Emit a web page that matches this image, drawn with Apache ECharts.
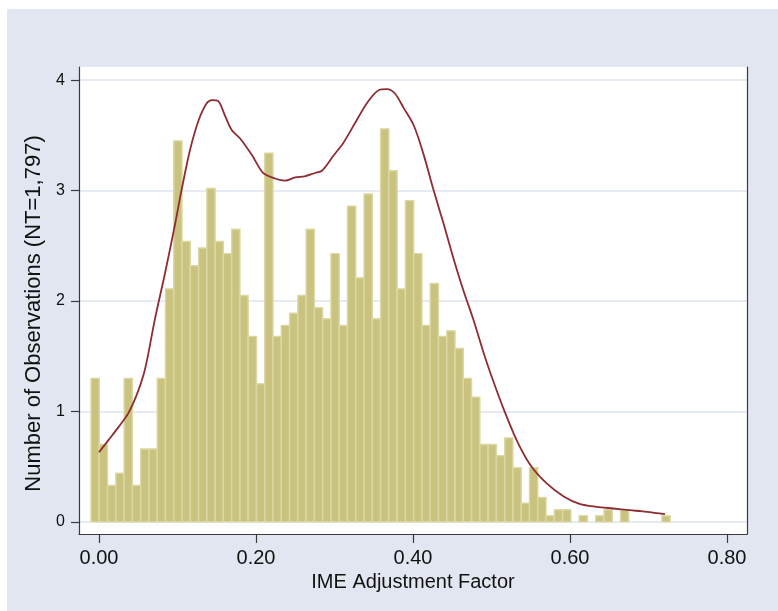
<!DOCTYPE html>
<html>
<head>
<meta charset="utf-8">
<script src="https://cdn.jsdelivr.net/npm/echarts@6/dist/echarts.min.js"></script>
<style>
    html, body { margin: 0; padding: 0; background: #fff; }
    #chart { width: 778px; height: 611px; }
</style>
</head>
<body>
<div id="chart"></div>
<script>
// histogram bins (density)
const binStart = -0.0102
const binWidth = 0.01054
const densities = [
    1.30, 0.70, 0.33, 0.44, 1.30, 0.33, 0.66, 0.66, 1.30, 2.11,
    3.45, 2.54, 2.32, 2.48, 3.02, 2.54, 2.43, 2.65, 2.05, 1.68,
    1.25, 3.34, 1.68, 1.78, 1.89, 2.05, 2.65, 1.94, 1.84, 2.43,
    1.78, 2.86, 2.21, 2.97, 1.84, 3.56, 3.18, 2.11, 2.91, 2.43,
    1.78, 2.16, 1.68, 1.73, 1.57, 1.30, 1.13, 0.70, 0.70, 0.60,
    0.76, 0.49, 0.17, 0.49, 0.22, 0.055, 0.11, 0.11, 0, 0.055,
    0, 0.055, 0.11, 0, 0.11, 0, 0, 0, 0, 0.055
]
// kernel density curve
const kdeX = [
    0.000, 0.012, 0.025, 0.037, 0.048, 0.057, 0.063, 0.071, 0.084, 0.097,
    0.105, 0.116, 0.127, 0.137, 0.144, 0.152, 0.161, 0.169, 0.180, 0.195,
    0.209, 0.224, 0.237, 0.250, 0.262, 0.275, 0.284, 0.299, 0.311, 0.326,
    0.341, 0.356, 0.367, 0.377, 0.388, 0.401, 0.413, 0.426, 0.439, 0.451,
    0.464, 0.477, 0.490, 0.502, 0.515, 0.532, 0.549, 0.570, 0.592, 0.613,
    0.634, 0.655, 0.676, 0.698, 0.721
]
const kdeY = [
    0.63, 0.74, 0.86, 0.98, 1.15, 1.34, 1.53, 1.83, 2.25, 2.70,
    3.00, 3.37, 3.64, 3.79, 3.82, 3.81, 3.67, 3.55, 3.47, 3.32,
    3.16, 3.11, 3.09, 3.12, 3.13, 3.16, 3.18, 3.32, 3.43, 3.61,
    3.79, 3.91, 3.92, 3.88, 3.75, 3.59, 3.34, 3.01, 2.70, 2.40,
    2.10, 1.83, 1.53, 1.28, 1.03, 0.74, 0.52, 0.35, 0.23, 0.16,
    0.136, 0.121, 0.106, 0.091, 0.07
]
const xTicks = [0, 0.2, 0.4, 0.6, 0.8]
const yTicks = [0, 1, 2, 3, 4]

const FONT = 'Liberation Sans'
const AXIS_COLOR = '#3a3a3a'

const binData = densities.map((d, i) => [binStart + i * binWidth, binStart + (i + 1) * binWidth, d])
const kdeData = kdeX.map((x, i) => [x, kdeY[i]])

const chart = echarts.init(document.getElementById('chart'))
chart.setOption({
    animation: false,
    backgroundColor: '#fff',
    graphic: [{
        type: 'rect',
        z: -10,
        shape: { x: 7, y: 9, width: 771, height: 602 },
        style: { fill: '#e1e6f0' }
    }],
    grid: {
        left: 79, right: 31, top: 67, bottom: 77,
        show: true, backgroundColor: '#fff', borderWidth: 0
    },
    xAxis: {
        type: 'value',
        min: -0.0255,
        max: 0.8255,
        name: 'IME Adjustment Factor',
        nameLocation: 'middle',
        nameGap: 36,
        nameTextStyle: { fontFamily: FONT, fontSize: 20, color: '#111' },
        axisLine: { show: true, onZero: false, lineStyle: { color: AXIS_COLOR, width: 1.2 } },
        axisTick: { show: true, length: 9, customValues: xTicks, lineStyle: { color: AXIS_COLOR, width: 1.2 } },
        axisLabel: {
            customValues: xTicks, margin: 14,
            fontFamily: FONT, fontSize: 20, color: '#111',
            formatter: v => v.toFixed(2)
        },
        splitLine: { show: false }
    },
    yAxis: [{
        type: 'value',
        min: -0.11,
        max: 4.12,
        name: 'Number of Observations (NT=1,797)',
        nameLocation: 'middle',
        nameGap: 33,
        nameTextStyle: { fontFamily: FONT, fontSize: 22, color: '#111', padding: [0, 26, 0, 0] },
        axisLine: { show: true, onZero: false, lineStyle: { color: AXIS_COLOR, width: 1.2 } },
        axisTick: { show: true, length: 8, customValues: yTicks, lineStyle: { color: AXIS_COLOR, width: 1.2 } },
        axisLabel: { customValues: yTicks, margin: 14, fontFamily: FONT, fontSize: 16, color: '#111' },
        splitLine: { show: true, lineStyle: { color: '#dde3ef', width: 1.5 } }
    }, {
        type: 'value',
        position: 'right',
        min: -0.11,
        max: 4.12,
        axisLine: { show: true, onZero: false, lineStyle: { color: AXIS_COLOR, width: 1.2 } },
        axisTick: { show: false },
        axisLabel: { show: false },
        splitLine: { show: false }
    }],
    series: [{
        type: 'custom',
        data: binData,
        encode: { x: [0, 1], y: 2 },
        renderItem(params, api) {
            const top = api.coord([api.value(0), api.value(2)])
            const base = api.coord([api.value(1), 0])
            if (api.value(2) <= 0) return
            return {
                type: 'rect',
                shape: { x: top[0], y: top[1], width: base[0] - top[0], height: base[1] - top[1] },
                style: { fill: '#cac37f', stroke: '#dcd8a4', lineWidth: 1.4 }
            }
        }
    }, {
        type: 'line',
        data: kdeData,
        smooth: 0.3,
        symbol: 'none',
        lineStyle: { color: '#8e2d31', width: 1.8 },
        z: 5
    }]
})
</script>
</body>
</html>
